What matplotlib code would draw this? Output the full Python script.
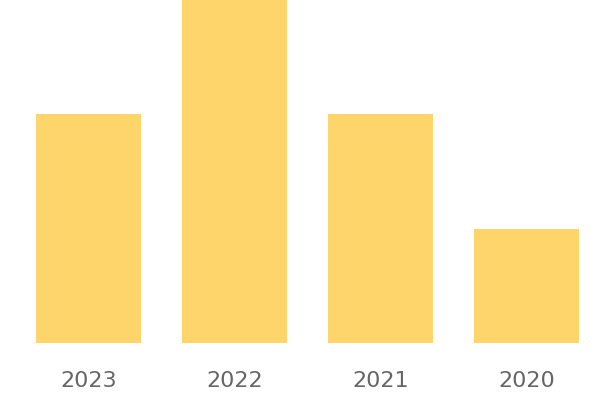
import matplotlib
matplotlib.use("Agg")
import matplotlib.pyplot as plt

categories = ["2023", "2022", "2021", "2020"]
values = [2, 3, 2, 1]

fig = plt.figure(figsize=(6, 4), dpi=100)
ax = fig.add_axes([15.5/600, 57/400, 584/600, 343/400])
x = list(range(len(categories)))
ax.bar(x, values, width=105/146, color="#fdd56b")
ax.set_xlim(-0.5, 3.5)
ax.set_ylim(0, 3)
ax.set_xticks(x)
ax.set_xticklabels(categories, family="DejaVu Sans", fontsize=16, color="#666666")
ax.tick_params(axis="x", length=0, pad=20)
ax.set_yticks([])
for s in ax.spines.values():
    s.set_visible(False)
fig.savefig("out.png", dpi=100)
